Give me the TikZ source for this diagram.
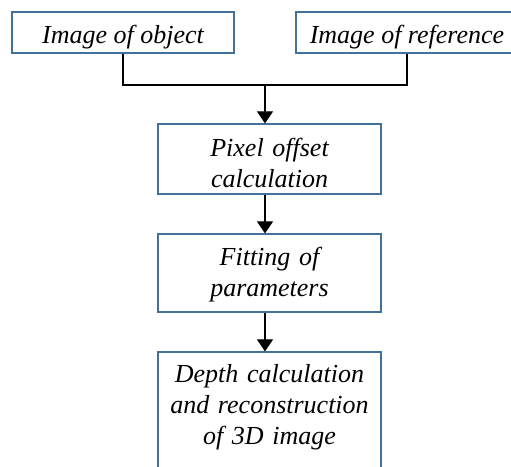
\documentclass[tikz,border=0pt]{standalone}
\usepackage{fontspec}
\setmainfont{Liberation Serif}
\usepackage{tikz}
\usetikzlibrary{arrows.meta}
\definecolor{boxblue}{RGB}{65,113,156}
\tikzset{
	stage/.style={draw=boxblue,line width=1.2pt,inner sep=0pt,align=center,font=\fontsize{26}{31}\selectfont\itshape},
	flow/.style={line width=1.1pt,-{Triangle[width=16pt,length=12pt]}}
}

\begin{document}
\begin{tikzpicture}[x=1pt,y=-1pt]
				\useasboundingbox (0,0) rectangle (511,466);
				\clip (0,0) rectangle (511,466);
				\node[stage,minimum width=222pt,minimum height=41pt,text height=22pt,text depth=0pt] (obj) at (123,32.5) {Image of object};
				\node[stage,minimum width=222pt,minimum height=41pt,text height=22pt,text depth=0pt] (ref) at (407,32.5) {Image of reference};
				\node[stage,text width=215pt,minimum width=223pt,minimum height=70pt,text height=18pt,text depth=24pt] (pix) at (269.5,159) {Pixel offset\\calculation};
				\node[stage,text width=215pt,minimum width=223pt,minimum height=78pt,text height=18pt,text depth=34pt] (fit) at (269.5,273) {Fitting of\\parameters};
				\node[stage,text width=215pt,minimum width=223pt,minimum height=140pt,text height=18pt,text depth=98pt] (dep) at (269.5,422) {Depth calculation\\and reconstruction\\of 3D image};
				\coordinate (join) at (265,85);
				\draw[line width=1.1pt] (obj.south) |- (join) -| (ref.south);
				\draw[flow] (join) -- (join |- pix.north);
				\draw[flow] (join |- pix.south) -- (join |- fit.north);
				\draw[flow] (join |- fit.south) -- (join |- dep.north);
\end{tikzpicture}
\end{document}
